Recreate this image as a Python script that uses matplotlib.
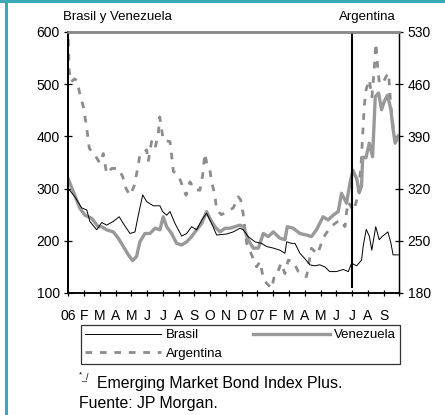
import matplotlib
matplotlib.use("Agg")
import matplotlib.pyplot as plt
from matplotlib.lines import Line2D

plt.rcParams['font.family'] = ['Liberation Sans', 'DejaVu Sans']

# months since Jan 2006
month_labels = ['06', 'F', 'M', 'A', 'M', 'J', 'J', 'A', 'S', 'O', 'N', 'D',
                '07', 'F', 'M', 'A', 'M', 'J', 'J', 'A', 'S', '']

brasil_m = [0, 0.42, 0.85, 1.17, 1.37, 1.8, 2.12, 2.43, 2.85, 3.23, 3.49, 3.91,
            4.23, 4.44, 4.72, 4.97, 5.39, 5.81, 5.98, 6.24, 6.45, 6.77, 7.19,
            7.51, 7.82, 8.14, 8.46, 8.77, 9.09, 9.41, 10.04, 10.46, 10.89, 11.1,
            11.41, 11.84, 12.26, 12.58, 13.0, 13.42, 13.74, 13.85, 14.17, 14.38,
            14.69, 15.0, 15.32, 15.63, 15.95, 16.27, 16.58, 17.0, 17.44, 17.76,
            17.97, 18.29, 18.6, 18.7, 18.9, 19.1, 19.25, 19.5, 19.72, 19.9,
            20.27, 20.46, 20.6, 20.93]
brasil = [300, 284, 263, 259, 237, 221, 235, 230, 237, 246, 233, 214,
          217, 249, 288, 275, 267, 267, 256, 249, 256, 233, 209,
          214, 227, 221, 240, 253, 233, 211, 213, 217, 224, 221,
          208, 198, 195, 189, 186, 182, 176, 198, 195, 195,
          176, 166, 154, 152, 154, 150, 141, 141, 145, 141,
          157, 152, 163, 189, 222, 208, 182, 227, 202, 208,
          217, 196, 173, 173]

venez_m = [0, 0.32, 0.74, 1.06, 1.48, 1.9, 2.12, 2.43, 2.85, 3.17, 3.49, 3.81,
           4.08, 4.33, 4.54, 4.86, 5.18, 5.5, 5.81, 6.02, 6.24, 6.55, 6.87,
           7.19, 7.51, 7.82, 8.14, 8.46, 8.77, 9.03, 9.3, 9.62, 9.94, 10.25,
           10.57, 10.89, 11.1, 11.41, 11.73, 12.05, 12.37, 12.68, 13.0, 13.42,
           13.74, 13.89, 14.27, 14.69, 15.11, 15.42, 15.74, 16.16, 16.48, 16.8,
           17.12, 17.33, 17.65, 17.86, 18.05, 18.3, 18.45, 18.6, 18.67, 18.88,
           19.09, 19.3, 19.47, 19.68, 19.87, 20.04, 20.25, 20.46, 20.61, 20.73,
           20.93]
venez = [318, 294, 262, 249, 243, 227, 227, 221, 217, 205, 189, 173,
         162, 170, 198, 214, 214, 224, 221, 246, 227, 214, 195,
         192, 198, 208, 221, 233, 256, 240, 227, 217, 224, 224,
         227, 230, 227, 202, 186, 186, 214, 208, 217, 205,
         202, 227, 224, 214, 211, 208, 221, 246, 240, 249,
         256, 291, 272, 310, 335, 318, 292, 305, 360, 359,
         387, 361, 476, 483, 451, 467, 479, 451, 412, 387,
         401]

argen_m = [0, 0.05, 0.15, 0.4, 0.55, 0.74, 0.95, 1.12, 1.27, 1.33, 1.69, 2.0,
           2.22, 2.43, 2.75, 3.17, 3.45, 3.66, 3.91, 4.17, 4.38, 4.54, 4.76,
           4.97, 5.07, 5.28, 5.5, 5.71, 5.8, 6.02, 6.45, 6.55, 6.66, 6.98,
           7.25, 7.47, 7.72, 8.03, 8.35, 8.52, 8.66, 8.8, 8.98, 9.09, 9.3,
           9.41, 9.72, 10.04, 10.46, 10.78, 10.93, 11.1, 11.31, 11.63, 11.94,
           12.16, 12.37, 12.58, 12.9, 13.1, 13.3, 13.5, 13.74, 13.95, 14.27,
           14.58, 14.8, 15.11, 15.42, 15.8, 16.2, 16.58, 16.9, 17.23, 17.55,
           17.65, 17.76, 18.1, 18.35, 18.56, 18.77, 18.88, 19.09, 19.26, 19.4,
           19.51, 19.62, 19.73, 19.94, 20.15, 20.31, 20.46, 20.67, 20.88]
argen = [520, 480, 463, 467, 465, 446, 430, 408, 385, 374, 365, 354,
         367, 340, 347, 347, 336, 320, 311, 323, 345, 365, 367,
         372, 356, 383, 374, 394, 416, 385, 383, 365, 343, 338,
         323, 311, 329, 318, 318, 338, 367, 352, 345, 329, 311,
         291, 285, 289, 294, 309, 305, 285, 247, 231, 215,
         222, 200, 193, 186, 206, 209, 220, 206, 224, 222,
         209, 204, 202, 240, 232, 255, 267, 273, 278, 269,
         289, 302, 290, 309, 349, 430, 452, 466, 443, 479,
         515, 483, 461, 461, 470, 475, 430, 390, 383]

left_ticks = [100, 200, 300, 400, 500, 600]
right_ticks = [180, 250, 320, 390, 460, 530]
cut_month = 18  # July 2007

fig = plt.figure(figsize=(4.45, 4.15), dpi=100)
ax = fig.add_axes([0.1535, 0.294, 0.744, 0.629])
ax2 = ax.twinx()
ax.set_zorder(ax2.get_zorder() + 1)
ax.patch.set_visible(False)

arg_dash = (2.4, 2.8)
ax2.plot(argen_m, argen, color='#8c8c8c', lw=2.0, dashes=arg_dash)
ax.plot(venez_m, venez, color='#999999', lw=2.4, solid_joinstyle='round')
ax.plot(brasil_m, brasil, color='black', lw=0.7)
ax.axvline(cut_month, ymin=0.023, ymax=1, color='black', lw=1.5)

ax.set_xlim(0, 21)
ax.set_ylim(100, 600)
ax2.set_ylim(180, 530)
ax.set_xticks(range(22))
ax.set_xticklabels(month_labels)
ax.set_yticks(left_ticks)
ax2.set_yticks(right_ticks)

for a in (ax, ax2):
    a.spines['top'].set_color('#8a8a8a')
    a.spines['top'].set_linewidth(1.8)
    a.spines['left'].set_linewidth(1.3)
    a.spines['right'].set_linewidth(0.9)
    a.spines['bottom'].set_linewidth(1.1)
ax.tick_params(axis='y', direction='inout', length=6, width=0.9, labelsize=10, pad=3)
ax.tick_params(axis='x', direction='inout', length=5, width=0.9, labelsize=10, pad=9)
ax2.tick_params(axis='y', direction='inout', length=6, width=0.9, labelsize=10, pad=3)

fig.text(63 / 445, 1 - 17 / 415, 'Brasil y Venezuela', fontsize=9.5, va='center', ha='left')
fig.text(396 / 445, 1 - 17 / 415, 'Argentina', fontsize=9.5, va='center', ha='right')

handles = [Line2D([], [], color='black', lw=0.7),
           Line2D([], [], color='#8c8c8c', lw=2.0, dashes=arg_dash),
           Line2D([], [], color='#999999', lw=2.4)]
labels = ['Brasil', 'Argentina', 'Venezuela']
leg = fig.legend(handles, labels, loc='upper left', ncol=2,
                 bbox_to_anchor=(81 / 445, 1 - 325 / 415),
                 fontsize=9.5, frameon=True, fancybox=False, shadow=False,
                 handlelength=5.8, handletextpad=0.35, columnspacing=2.3,
                 labelspacing=0.5, borderpad=0.3, borderaxespad=0)
leg.get_frame().set_edgecolor('black')
leg.get_frame().set_linewidth(0.9)

fig.text(79 / 445, 1 - 375 / 415, '*', fontsize=6, va='center', ha='left')
fig.text(81 / 445, 1 - 377 / 415, '_/', fontsize=6.5, va='center', ha='left')
fig.text(97 / 445, 1 - 383 / 415, 'Emerging Market Bond Index Plus.', fontsize=11.4,
         va='center', ha='left')
fig.text(79 / 445, 1 - 403 / 415, 'Fuente: JP Morgan.', fontsize=11.4,
         va='center', ha='left')

# teal frame on the left and top
teal = '#3aa9b6'
fig.add_artist(Line2D([5.5 / 445, 5.5 / 445], [0, 1], color=teal, lw=2.2,
                      transform=fig.transFigure))
fig.add_artist(Line2D([0, 1], [1 - 1.3 / 415, 1 - 1.3 / 415], color=teal, lw=2.2,
                      transform=fig.transFigure))

fig.savefig('out.png', dpi=100)
